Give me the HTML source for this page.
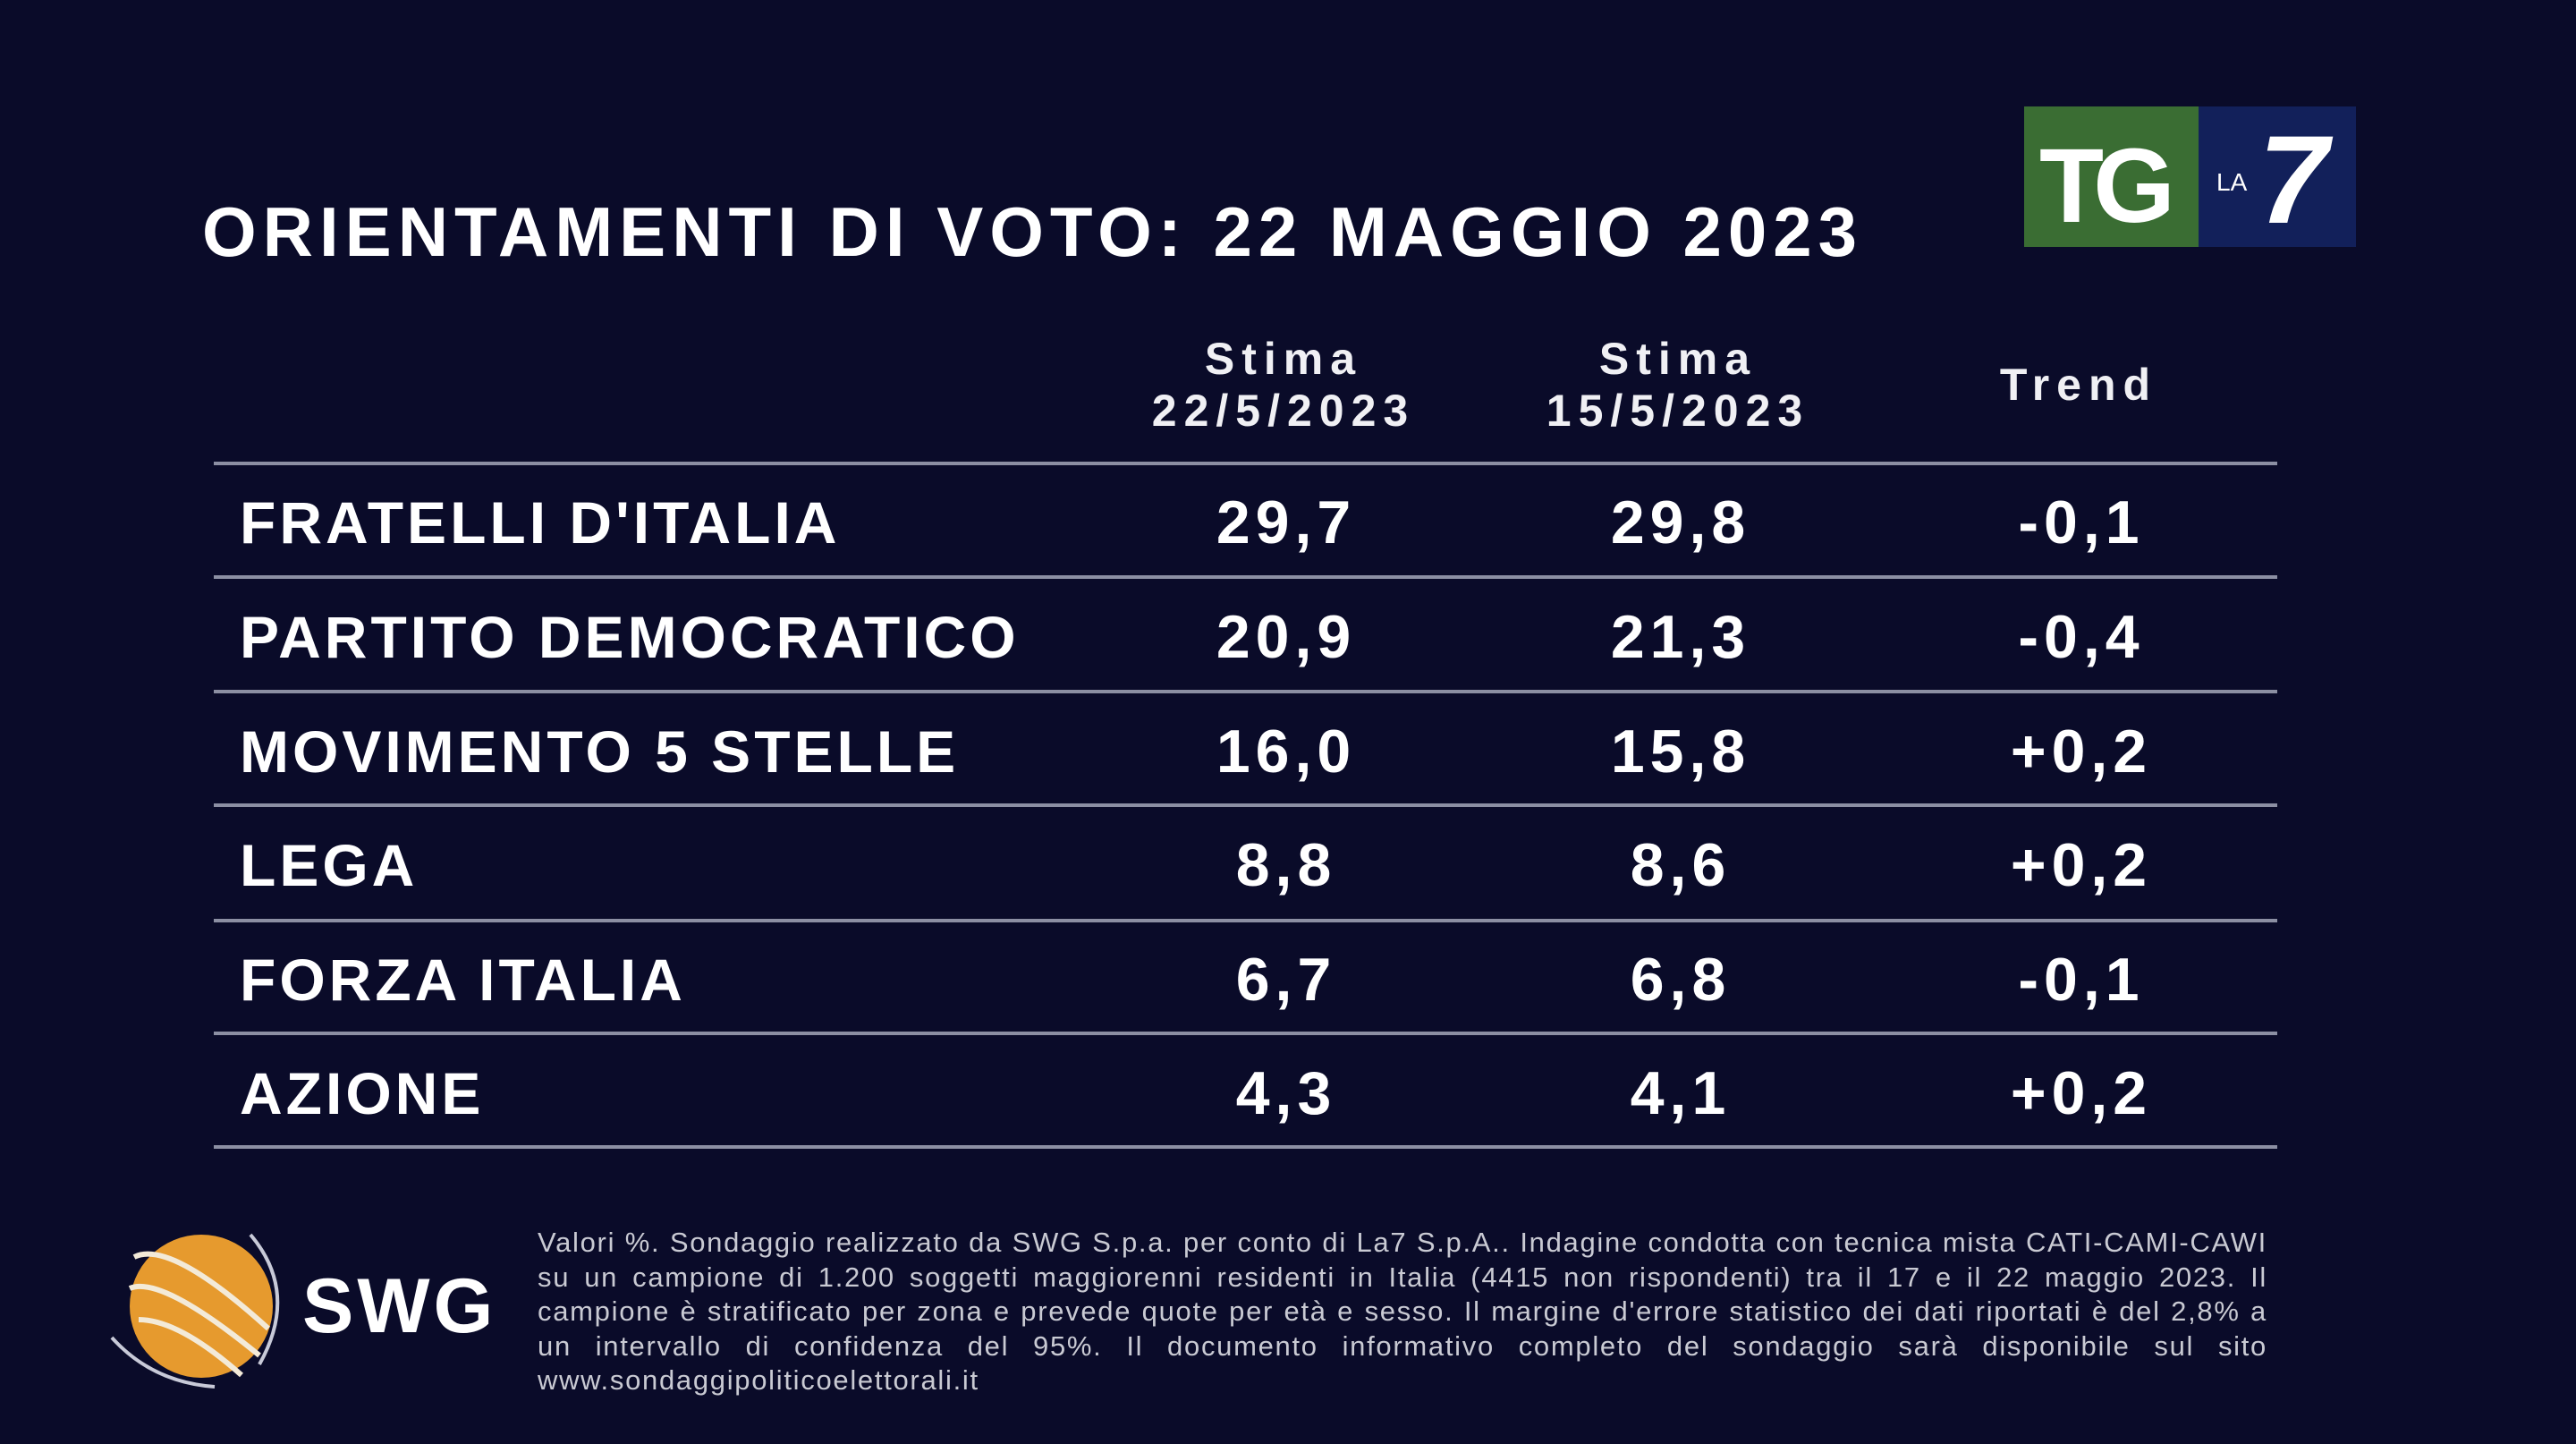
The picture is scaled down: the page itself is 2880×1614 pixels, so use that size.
<!DOCTYPE html>
<html><head><style>
body{margin:0;width:2880px;height:1614px;background:#0a0b29;overflow:hidden;font-family:"Liberation Sans",sans-serif;color:#fff;position:relative}
.a{position:absolute;white-space:nowrap;font-weight:bold}
.t{position:absolute;font-weight:bold;font-size:68px;letter-spacing:6px;transform:translate(-50%,-50%);white-space:nowrap}
.l{position:absolute;left:239px;width:2307px;height:4px;background:#8c8fa3}
.h{position:absolute;font-weight:bold;font-size:50px;letter-spacing:8px;text-align:center;transform:translateX(-50%);line-height:58px;color:#f0f0f4;white-space:nowrap}
.r{position:absolute;left:268px;font-weight:bold;font-size:66px;letter-spacing:4px;line-height:80px;white-space:nowrap}
</style></head><body>
<div class="a" style="left:226px;top:214px;font-size:78px;letter-spacing:7px">ORIENTAMENTI DI VOTO: 22 MAGGIO 2023</div>
<div style="position:absolute;left:2263px;top:119px;width:195px;height:157px;background:#3a6d33"></div>
<div style="position:absolute;left:2458px;top:119px;width:176px;height:157px;background:#12205a"></div>
<div class="a" style="left:2280px;top:140px;font-size:118px;letter-spacing:-12px">TG</div>
<div class="a" style="left:2478px;top:188px;font-size:28px;font-weight:normal">LA</div>
<div class="a" style="left:2525px;top:120px;font-size:140px;font-style:italic">7</div>
<div class="h" style="left:1435px;top:372px">Stima<br>22/5/2023</div>
<div class="h" style="left:1876px;top:372px">Stima<br>15/5/2023</div>
<div class="h" style="left:2324px;top:401px">Trend</div>
<div class="l" style="top:516px"></div><div class="l" style="top:643px"></div><div class="l" style="top:771px"></div><div class="l" style="top:898px"></div><div class="l" style="top:1027px"></div><div class="l" style="top:1153px"></div><div class="l" style="top:1280px"></div>
<div class="r" style="top:544px">FRATELLI D'ITALIA</div>
<div class="r" style="top:672px">PARTITO DEMOCRATICO</div>
<div class="r" style="top:800px">MOVIMENTO 5 STELLE</div>
<div class="r" style="top:927px">LEGA</div>
<div class="r" style="top:1055px">FORZA ITALIA</div>
<div class="r" style="top:1182px">AZIONE</div>
<div class="t" style="left:1438px;top:584px">29,7</div><div class="t" style="left:1879px;top:584px">29,8</div><div class="t" style="left:2327px;top:584px">-0,1</div>
<div class="t" style="left:1438px;top:712px">20,9</div><div class="t" style="left:1879px;top:712px">21,3</div><div class="t" style="left:2327px;top:712px">-0,4</div>
<div class="t" style="left:1438px;top:840px">16,0</div><div class="t" style="left:1879px;top:840px">15,8</div><div class="t" style="left:2327px;top:840px">+0,2</div>
<div class="t" style="left:1438px;top:967px">8,8</div><div class="t" style="left:1879px;top:967px">8,6</div><div class="t" style="left:2327px;top:967px">+0,2</div>
<div class="t" style="left:1438px;top:1095px">6,7</div><div class="t" style="left:1879px;top:1095px">6,8</div><div class="t" style="left:2327px;top:1095px">-0,1</div>
<div class="t" style="left:1438px;top:1222px">4,3</div><div class="t" style="left:1879px;top:1222px">4,1</div><div class="t" style="left:2327px;top:1222px">+0,2</div>
<svg style="position:absolute;left:120px;top:1365px" width="210" height="190" viewBox="0 0 210 190">
<circle cx="105" cy="95" r="80" fill="#e69a2e"/>
<g fill="none" stroke="#f3ead8" stroke-width="6">
<path d="M30 40 Q70 20 180 120"/><path d="M25 75 Q60 60 170 150"/><path d="M35 110 Q80 110 150 172"/>
</g>
<path d="M160 15 Q215 80 170 160" stroke="#c8cad8" stroke-width="4" fill="none"/>
<path d="M5 130 Q50 180 120 185" stroke="#c8cad8" stroke-width="4" fill="none"/>
</svg>
<div class="a" style="left:338px;top:1410px;font-size:86px;letter-spacing:4px;line-height:100px">SWG</div>
<div style="position:absolute;left:601px;top:1370px;width:1934px;font-size:31px;letter-spacing:1.7px;line-height:38.5px;color:#c9cad3;text-align:justify;text-align-last:left">Valori %. Sondaggio realizzato da SWG S.p.a. per conto di La7 S.p.A.. Indagine condotta con tecnica mista CATI-CAMI-CAWI su un campione di 1.200 soggetti maggiorenni residenti in Italia (4415 non rispondenti) tra il 17 e il 22 maggio 2023. Il campione è stratificato per zona e prevede quote per età e sesso. Il margine d'errore statistico dei dati riportati è del 2,8% a un intervallo di confidenza del 95%. Il documento informativo completo del sondaggio sarà disponibile sul sito www.sondaggipoliticoelettorali.it</div>
</body></html>
